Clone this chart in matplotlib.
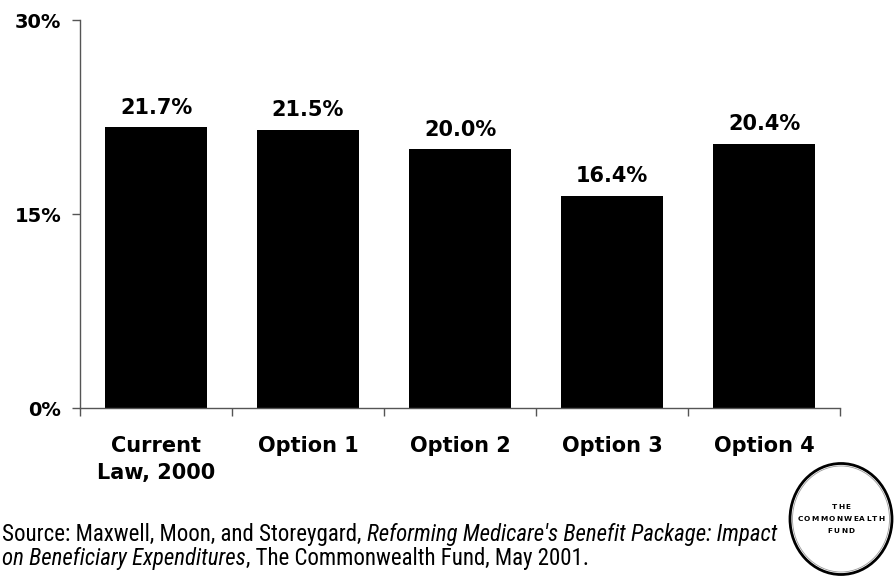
import matplotlib
matplotlib.use("Agg")
import matplotlib.pyplot as plt
from matplotlib.patches import Ellipse
from matplotlib import font_manager

categories = ["Current\nLaw, 2000", "Option 1", "Option 2", "Option 3", "Option 4"]
values = [21.7, 21.5, 20.0, 16.4, 20.4]
value_labels = ["21.7%", "21.5%", "20.0%", "16.4%", "20.4%"]
y_ticks = [0, 15, 30]
y_tick_labels = ["0%", "15%", "30%"]

W, H = 894, 582
fig = plt.figure(figsize=(W / 100, H / 100), dpi=100)
fig.patch.set_facecolor("white")

# plot area in pixel terms
left, right, top, bottom = 80, 840, 20, 408
ax = fig.add_axes([left / W, 1 - bottom / H, (right - left) / W, (bottom - top) / H])

n = len(categories)
xs = list(range(n))
ax.bar(xs, values, width=0.67, color="black", zorder=2)
ax.set_xlim(-0.5, n - 0.5)
ax.set_ylim(0, 30)

for x, v, lab in zip(xs, values, value_labels):
    ax.annotate(lab, (x, v), xytext=(0, 7), textcoords="offset points",
                ha="center", va="bottom", fontsize=15, fontweight="bold")

spine_color = "#555555"
for s in ["top", "right"]:
    ax.spines[s].set_visible(False)
for s in ["left", "bottom"]:
    ax.spines[s].set_color(spine_color)
    ax.spines[s].set_linewidth(1.0)

ax.set_yticks(y_ticks)
ax.set_yticklabels(y_tick_labels, fontsize=14, fontweight="bold")
ax.tick_params(axis="y", length=5.5, width=1, color=spine_color, pad=8)

# boundary ticks on x, labels centred under bars
ax.set_xticks([i - 0.5 for i in range(n + 1)])
ax.set_xticklabels([])
ax.tick_params(axis="x", which="major", length=5.5, width=1, color=spine_color)
ax.set_xticks(xs, minor=True)
ax.set_xticklabels(categories, minor=True, fontsize=15, fontweight="bold",
                   linespacing=1.45)
ax.tick_params(axis="x", which="minor", length=0, pad=20)

# source note, mixing upright and italic runs in a condensed face
available = {f.name for f in font_manager.fontManager.ttflist}
narrow = next((f for f in ["Roboto Condensed", "Archivo Narrow", "PT Sans Narrow",
                           "Liberation Sans"] if f in available), "DejaVu Sans")
lines = [
    [("Source: Maxwell, Moon, and Storeygard, ", "normal"),
     ("Reforming Medicare's Benefit Package: Impact", "italic")],
    [("on Beneficiary Expenditures", "italic"),
     (", The Commonwealth Fund, May 2001.", "normal")],
]
line_y = [541, 565]   # baselines, px from top
x0, x_end = 2, 782

fig.canvas.draw()
renderer = fig.canvas.get_renderer()


def run_width(runs, size):
    total = 0
    for txt, style in runs:
        t = fig.text(0, 0, txt, fontsize=size, style=style, family=narrow)
        total += t.get_window_extent(renderer=renderer).width
        t.remove()
    return total


base = 13.0
src_size = min(16.5, base * (x_end - x0) / run_width(lines[0], base))
for runs, yp in zip(lines, line_y):
    xp = x0
    for txt, style in runs:
        t = fig.text(xp / W, 1 - yp / H, txt, fontsize=src_size, style=style,
                     family=narrow, ha="left", va="baseline")
        xp += t.get_window_extent(renderer=renderer).width

# logo: double ring with tracked capitals, laid out in pixel units
lx0, ly0, lw_, lh_ = 784, 0, 110, 130
lax = fig.add_axes([lx0 / W, ly0 / H, lw_ / W, lh_ / H])
lax.set_xlim(0, lw_)
lax.set_ylim(0, lh_)
lax.axis("off")
cx, cy = 841 - lx0, 582 - 519
lax.add_patch(Ellipse((cx, cy), 102, 111, fill=False, ec="black", lw=2.0))
lax.add_patch(Ellipse((cx, cy), 97, 106, fill=False, ec="#999999", lw=0.6))

logo_lines = [("THE", 12), ("COMMONWEALTH", 0), ("FUND", -12)]
logo_size = 5.3
track = 1.3  # extra px between letters
for word, dy in logo_lines:
    widths = []
    for ch in word:
        t = lax.text(0, 0, ch, fontsize=logo_size, fontweight="bold")
        widths.append(t.get_window_extent(renderer=renderer).width)
        t.remove()
    total = sum(widths) + track * (len(word) - 1)
    xp = cx - total / 2
    for ch, w in zip(word, widths):
        lax.text(xp + w / 2, cy + dy, ch, ha="center", va="center",
                 fontsize=logo_size, fontweight="bold")
        xp += w + track

fig.savefig("out.png", dpi=100, facecolor="white")
